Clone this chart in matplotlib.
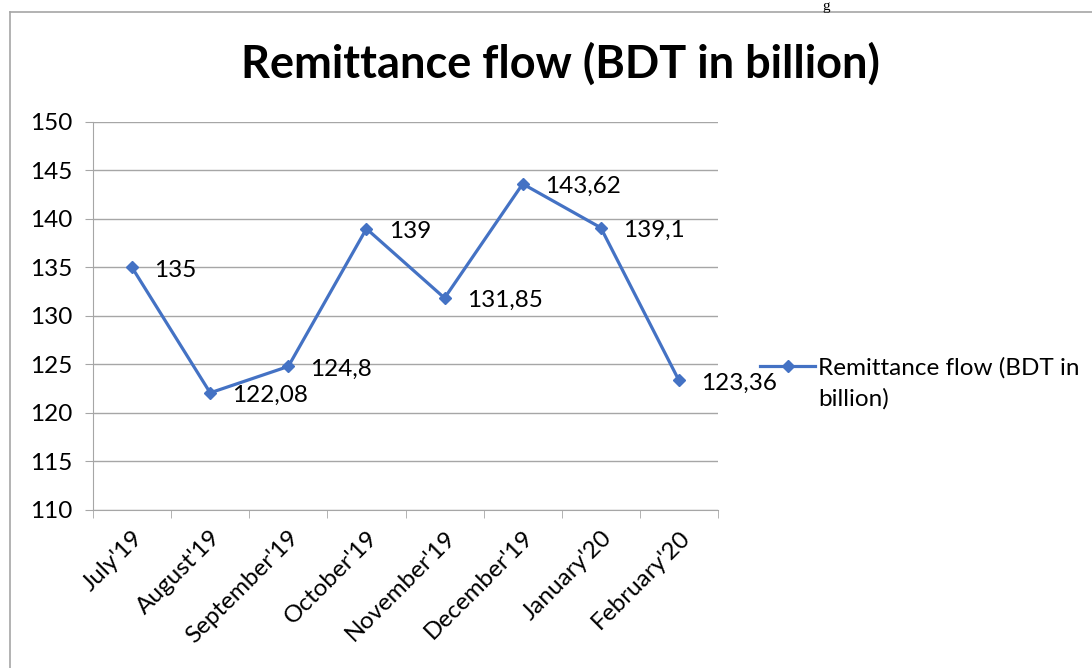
import matplotlib.pyplot as plt
from matplotlib.lines import Line2D

months = ["July'19", "August'19", "September'19", "October'19",
          "November'19", "December'19", "January'20", "February'20"]
remittance = [135, 122.08, 124.8, 139, 131.85, 143.62, 139.1, 123.36]
y_ticks = [110, 115, 120, 125, 130, 135, 140, 145, 150]
series_name = "Remittance flow (BDT in\nbillion)"

plt.rcParams['font.family'] = ['Lato', 'DejaVu Sans']

fig = plt.figure(figsize=(10.92, 6.68), dpi=100)
ax = fig.add_axes([93 / 1092, 1 - 510 / 668, 625 / 1092, 388 / 668])

blue = '#4472C4'
x = list(range(len(months)))
ax.plot(x, remittance, color=blue, lw=2.3, marker='D', ms=6.5, zorder=3)

for xi, v in zip(x, remittance):
    ax.annotate(f"{v:g}".replace('.', ','), (xi, v), xytext=(16, -2),
                textcoords='offset points', va='center', ha='left', fontsize=17.5)

ax.set_xlim(-0.5, len(months) - 0.5)
ax.set_ylim(110, 150)
ax.set_yticks(y_ticks)
ax.yaxis.grid(True, color='#a6a6a6', lw=1)
ax.set_axisbelow(True)

ax.set_xticks(x)
ax.set_xticklabels(months, rotation=45, ha='right', rotation_mode='anchor', fontsize=17.5)
ax.set_xticks([i - 0.5 for i in range(len(months) + 1)], minor=True)
ax.tick_params(axis='x', which='major', length=0, pad=12)
ax.tick_params(axis='x', which='minor', length=6, color='#a6a6a6')
ax.tick_params(axis='y', length=6, color='#a6a6a6', labelsize=17.5, pad=9)

for s in ['top', 'right']:
    ax.spines[s].set_visible(False)
for s in ['left', 'bottom']:
    ax.spines[s].set_color('#a6a6a6')

fig.text(560 / 1092, 1 - 64 / 668, 'Remittance flow (BDT in billion)',
         ha='center', va='center', fontsize=32.5, fontweight='bold')

# legend (handle next to the first line of the wrapped label)
ly = 1 - 366 / 668
fig.add_artist(Line2D([760 / 1092, 815 / 1092], [ly, ly], color=blue, lw=2.3))
fig.add_artist(Line2D([787.5 / 1092], [ly], color=blue, marker='D', ms=6.5))
fig.text(818 / 1092, 1 - 357 / 668, series_name, ha='left', va='top',
         fontsize=17.5, linespacing=1.55)

# chart border
fig.add_artist(Line2D([10 / 1092, 1.0], [1 - 12 / 668, 1 - 12 / 668],
                      color='#a6a6a6', lw=1.2))
fig.add_artist(Line2D([10 / 1092, 10 / 1092], [0, 1 - 12 / 668],
                      color='#a6a6a6', lw=1.2))
fig.text(822 / 1092, 1.0, 'g', family='Liberation Serif', fontsize=11, va='top')

fig.savefig('out.png', dpi=100)
